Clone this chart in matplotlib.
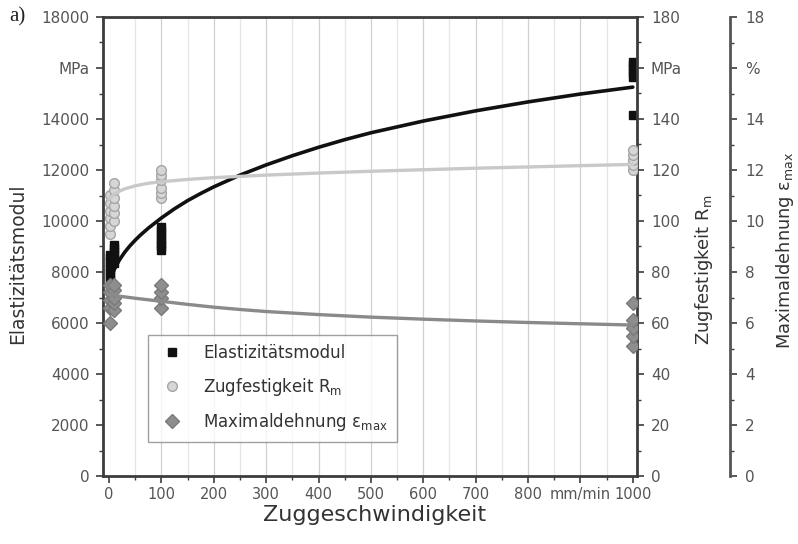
import numpy as np
import matplotlib
matplotlib.use("Agg")
import matplotlib.pyplot as plt
from matplotlib.lines import Line2D

# ---------------- data ----------------
SPEEDS = [1, 10, 100, 1000]                       # mm/min
E_MOD = [                                          # MPa (left axis)
    [7650, 7800, 7950, 8100, 8250, 8400, 8550, 8650],
    [8350, 8500, 8650, 8800, 8950, 9050],
    [8850, 9000, 9150, 9300, 9450, 9600, 9750],
    [14150, 15650, 15800, 15950, 16100, 16250],
]
R_M = [                                            # MPa (right axis)
    [95, 98, 101, 104, 107, 110],
    [100, 103, 106, 109, 112, 115],
    [109, 111, 113, 116, 118, 120],
    [120, 122, 124, 126, 128],
]
EPS_MAX = [                                        # % (outer right axis)
    [6.0, 6.6, 6.9, 7.2, 7.5],
    [6.5, 6.8, 7.0, 7.3, 7.5],
    [6.6, 7.0, 7.2, 7.5],
    [5.1, 5.5, 5.8, 6.1, 6.8],
]

# fitted curves
FIT_E_X = [0, 2, 5, 10, 15, 20, 30, 40, 50, 60, 75, 100, 125, 150, 175, 200, 250, 300,
           350, 400, 450, 500, 600, 700, 800, 900, 1000]
FIT_E_Y = [7550, 7700, 7880, 8100, 8300, 8480, 8780, 9030, 9250, 9450, 9720, 10120, 10480,
           10800, 11080, 11340, 11800, 12200, 12560, 12890, 13190, 13460, 13920, 14320,
           14670, 14980, 15250]
FIT_R_X = [0, 5, 10, 20, 30, 50, 75, 100, 150, 200, 300, 400, 500, 600, 700, 800, 900, 1000]
FIT_R_Y = [108.5, 109.6, 110.5, 111.7, 112.6, 113.8, 114.8, 115.4, 116.3, 117.0, 118.0,
           118.8, 119.5, 120.1, 120.7, 121.2, 121.7, 122.2]
FIT_EPS_X = [0, 20, 50, 100, 150, 200, 250, 300, 400, 500, 600, 700, 800, 900, 1000]
FIT_EPS_Y = [7.12, 7.05, 6.97, 6.85, 6.73, 6.62, 6.53, 6.45, 6.33, 6.23, 6.15, 6.08, 6.02,
             5.97, 5.92]

X_TICKS = [0, 100, 200, 300, 400, 500, 600, 700, 800, 900, 1000]
X_TICKLABELS = ["0", "100", "200", "300", "400", "500", "600", "700", "800", "mm/min", "1000"]
E_TICKS = [0, 2000, 4000, 6000, 8000, 10000, 12000, 14000, 16000, 18000]
E_TICKLABELS = ["0", "2000", "4000", "6000", "8000", "10000", "12000", "14000", "MPa", "18000"]
R_TICKS = [0, 20, 40, 60, 80, 100, 120, 140, 160, 180]
R_TICKLABELS = ["0", "20", "40", "60", "80", "100", "120", "140", "MPa", "180"]
EPS_TICKS = [0, 2, 4, 6, 8, 10, 12, 14, 16, 18]
EPS_TICKLABELS = ["0", "2", "4", "6", "8", "10", "12", "14", "%", "18"]

# ---------------- styling ----------------
plt.rcParams["font.family"] = ["DejaVu Sans"]
W, H = 798, 544
fig = plt.figure(figsize=(W / 100, H / 100), dpi=100)
L, R, T, B = 103.3, 637, 17, 476
ax = fig.add_axes([L / W, 1 - B / H, (R - L) / W, (B - T) / H])
ax2 = ax.twinx()
ax3 = ax.twinx()
ax3.spines["right"].set_position(("axes", (730 - L) / (R - L)))

SPINE = "#3c3c3c"
TXT = "#555555"
LAB = "#333333"
C_E = "#111111"
C_R_FACE, C_R_EDGE, C_R_LINE = "#d6d6d6", "#a5a5a5", "#c9c9c9"
C_P_FACE, C_P_EDGE, C_P_LINE = "#8e8e8e", "#7a7a7a", "#8a8a8a"

ax.set_xlim(-11, 1008)
ax.set_ylim(0, 18000)
ax2.set_ylim(0, 180)
ax3.set_ylim(0, 18)

# grid (vertical only)
for xv in np.arange(50, 1000, 50):
    ax.axvline(xv, color="#d0d0d0" if xv % 100 == 0 else "#e6e6e6", lw=0.9, zorder=0)

# data
for s, vals in zip(SPEEDS, E_MOD):
    ax.plot([s] * len(vals), vals, "s", ms=6.2, color=C_E, mec=C_E, zorder=3)
for s, vals in zip(SPEEDS, R_M):
    ax2.plot([s] * len(vals), vals, "o", ms=7, mfc=C_R_FACE, mec=C_R_EDGE, mew=1.0, zorder=3)
for s, vals in zip(SPEEDS, EPS_MAX):
    ax3.plot([s] * len(vals), vals, "D", ms=6.8, mfc=C_P_FACE, mec=C_P_EDGE, mew=1.0, zorder=3)

ax.plot(FIT_E_X, FIT_E_Y, color=C_E, lw=2.6, zorder=4, solid_capstyle="round",
        solid_joinstyle="round")
ax2.plot(FIT_R_X, FIT_R_Y, color=C_R_LINE, lw=2.4, zorder=4, solid_capstyle="round",
         solid_joinstyle="round")
ax3.plot(FIT_EPS_X, FIT_EPS_Y, color=C_P_LINE, lw=2.4, zorder=4, solid_capstyle="round",
         solid_joinstyle="round")

# ticks
ax.set_xticks(X_TICKS)
ax.set_xticklabels(X_TICKLABELS)
ax.set_xticks(np.arange(50, 1000, 100), minor=True)
ax.set_yticks(E_TICKS)
ax.set_yticklabels(E_TICKLABELS)
ax.set_yticks(np.arange(1000, 18000, 2000), minor=True)
ax2.set_yticks(R_TICKS)
ax2.set_yticklabels(R_TICKLABELS)
ax2.set_yticks(np.arange(10, 180, 20), minor=True)
ax3.set_yticks(EPS_TICKS)
ax3.set_yticklabels(EPS_TICKLABELS)
ax3.set_yticks(np.arange(1, 18, 2), minor=True)

for a in (ax, ax2, ax3):
    a.tick_params(which="major", direction="out", length=5, width=1.2, color=SPINE,
                  labelcolor=TXT, labelsize=11, pad=4)
    a.tick_params(which="minor", direction="out", length=3, width=1.0, color=SPINE)
ax.tick_params(axis="x", labelsize=10.5, pad=3)
ax.tick_params(axis="y", pad=5)
ax.tick_params(top=False, right=False, which="both")
ax2.tick_params(axis="y", pad=5)
ax3.tick_params(axis="y", pad=6)

for name, sp in ax.spines.items():
    sp.set_color(SPINE)
    sp.set_linewidth(2.0)
ax.spines["right"].set_visible(False)
for name, sp in ax2.spines.items():
    sp.set_visible(name == "right")
ax2.spines["right"].set_color(SPINE)
ax2.spines["right"].set_linewidth(2.0)
for name, sp in ax3.spines.items():
    sp.set_visible(name == "right")
ax3.spines["right"].set_color("#555555")
ax3.spines["right"].set_linewidth(2.0)

# labels
fig.text(18 / W, 1 - 264 / H, "Elastizitätsmodul", rotation=90, ha="center", va="center",
         fontsize=13.5, color=LAB)
fig.text(704 / W, 1 - 270 / H, "Zugfestigkeit R$_\\mathrm{m}$", rotation=90, ha="center",
         va="center", fontsize=13, color=LAB)
fig.text(785 / W, 1 - 250 / H, "Maximaldehnung ε$_\\mathrm{max}$", rotation=90, ha="center",
         va="center", fontsize=12.8, color=LAB)
fig.text(375 / W, 1 - 515 / H, "Zuggeschwindigkeit", ha="center", va="center",
         fontsize=16, color=LAB)
fig.text(9 / W, 1 - 17 / H, "a)", ha="left", va="center", fontsize=15,
         family=["Liberation Serif", "DejaVu Serif"], color="#222222")

# legend
handles = [
    Line2D([], [], ls="none", marker="s", ms=6.2, color=C_E),
    Line2D([], [], ls="none", marker="o", ms=7, mfc=C_R_FACE, mec=C_R_EDGE),
    Line2D([], [], ls="none", marker="D", ms=6.8, mfc=C_P_FACE, mec=C_P_EDGE),
]
labels = ["Elastizitätsmodul", "Zugfestigkeit R$_\\mathrm{m}$", "Maximaldehnung ε$_\\mathrm{max}$"]
leg = ax3.legend(handles, labels, loc="lower left",
                 bbox_to_anchor=((148 - L) / (R - L), (B - 442) / (B - T)),
                 borderaxespad=0, fontsize=12, frameon=True, fancybox=False,
                 edgecolor="#888888", labelspacing=0.8, handlelength=1.8,
                 handletextpad=0.95, borderpad=0.55, labelcolor=LAB)
leg.get_frame().set_linewidth(1.0)
leg.set_zorder(10)

fig.savefig("out.png", dpi=100)
